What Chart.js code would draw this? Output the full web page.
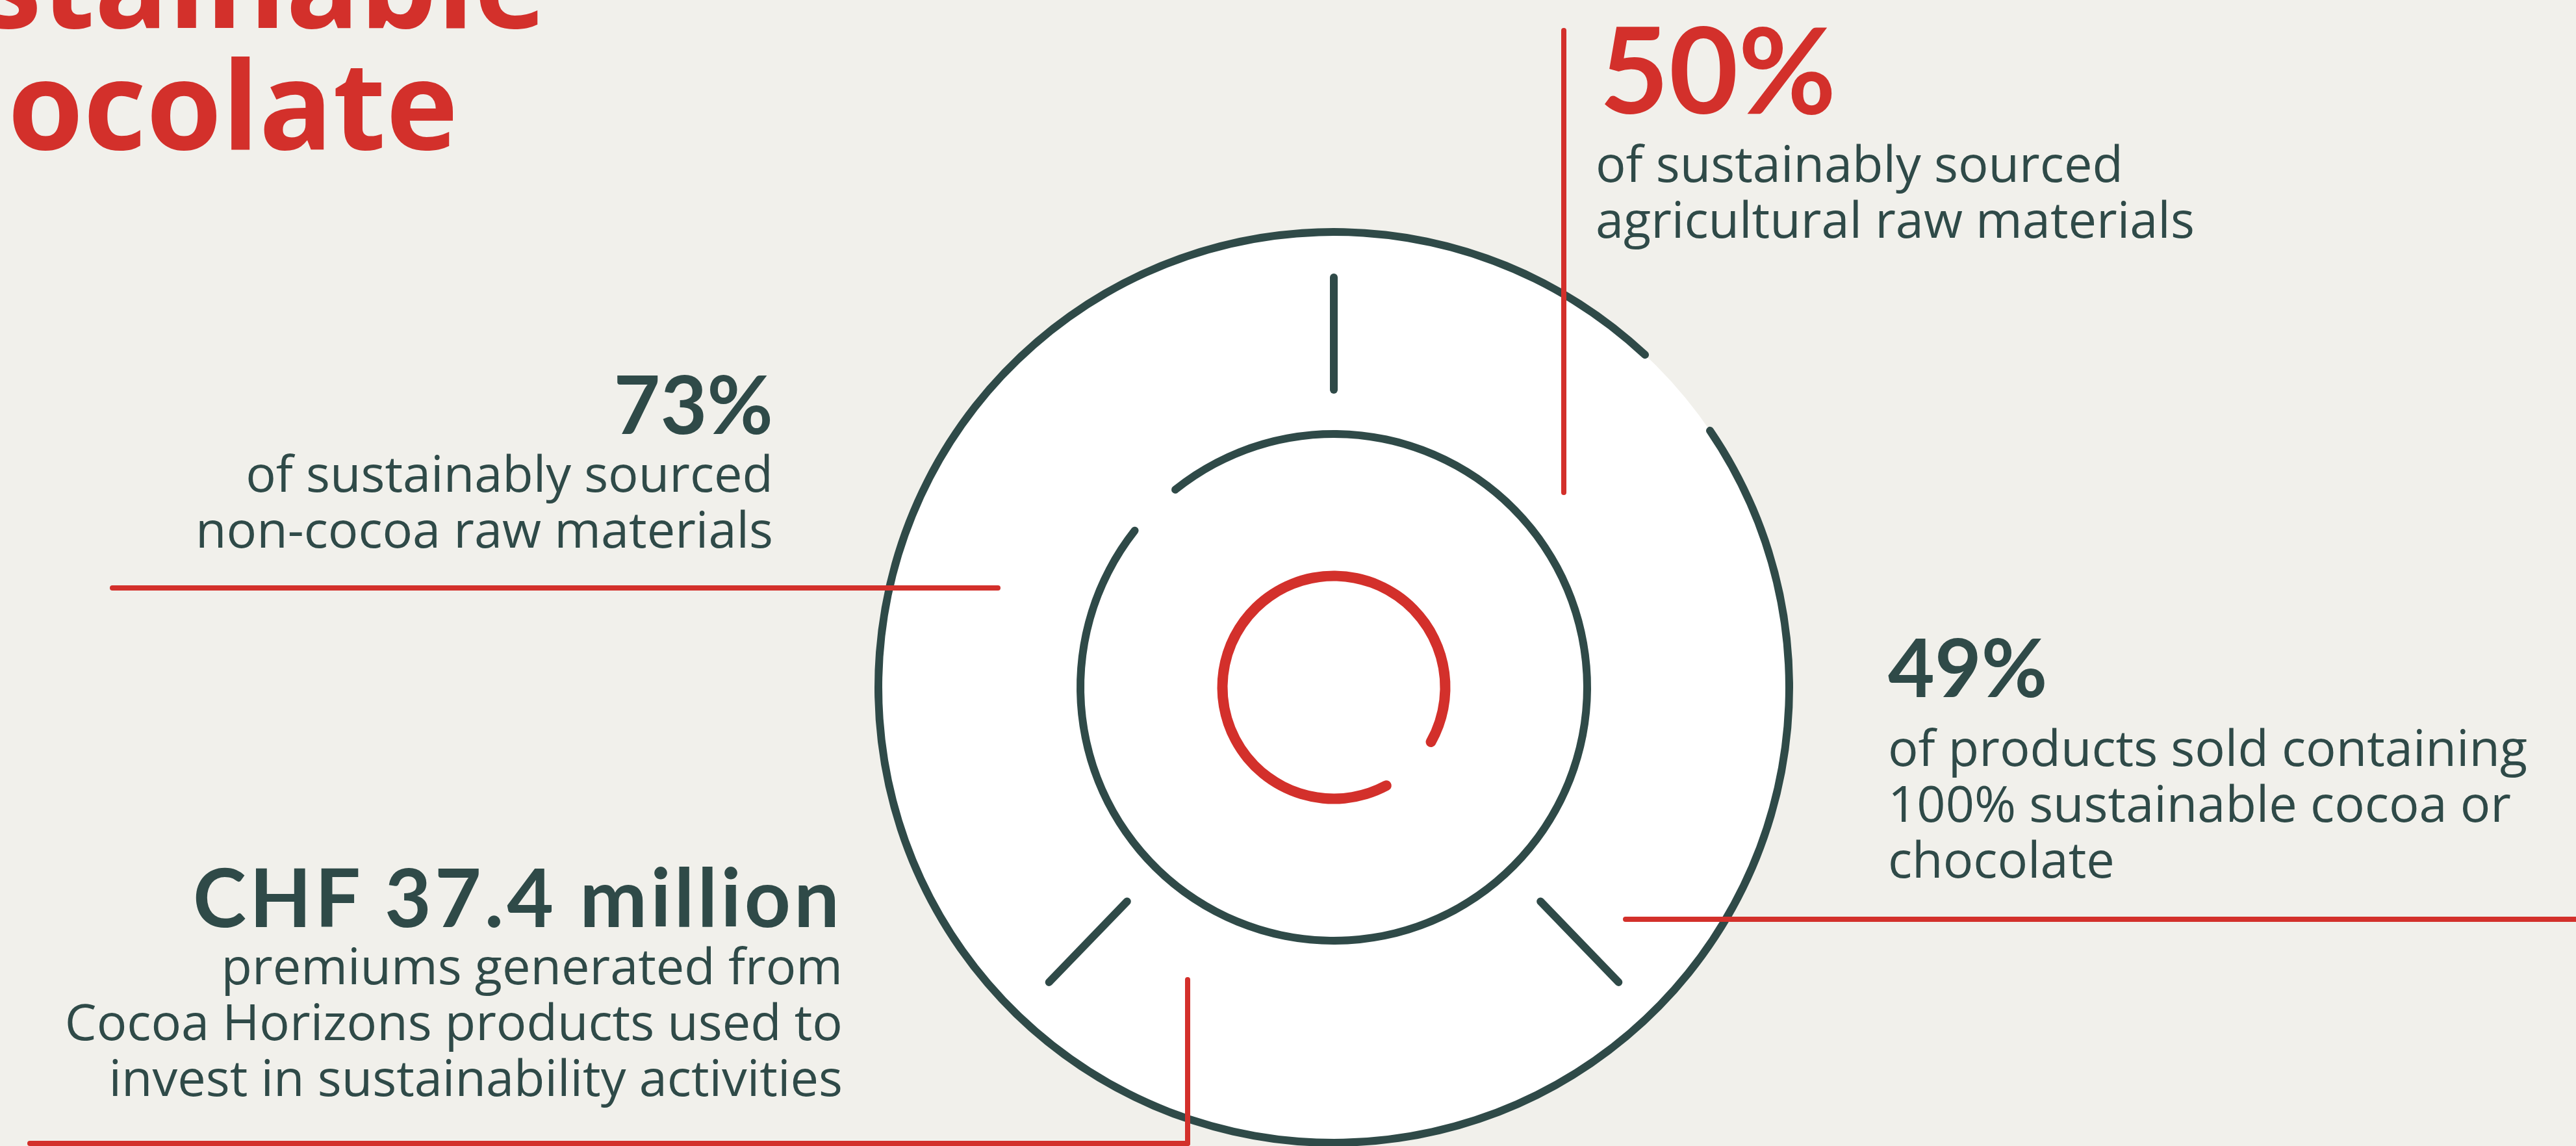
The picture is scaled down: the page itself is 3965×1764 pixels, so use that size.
<!DOCTYPE html>
<html>
<head>
<meta charset="utf-8">
<title>Sustainable chocolate</title>
<script src="https://cdn.jsdelivr.net/npm/chart.js@4.4.1/dist/chart.umd.min.js"></script>
<style>
  html, body { margin: 0; padding: 0; }
  body {
    width: 3965px; height: 1764px; overflow: hidden; position: relative;
    background: #f1f0eb; font-family: Lato, "Open Sans", sans-serif; color: #2f4a48;
  }
  #wrap { position: absolute; left: 1293px; top: 298px; width: 1520px; height: 1520px; }
  .txt { position: absolute; white-space: nowrap; }
  .big { font-weight: 700; font-size: 124px; line-height: 124px; }
  .body { font-family: "Open Sans", Lato, sans-serif; font-weight: 500; font-size: 77.5px; line-height: 86px; }
  .title { font-family: "Open Sans", Lato, sans-serif; font-weight: 700; font-size: 188px; line-height: 187px; color: #d3302b; text-align: right; }
  .right { text-align: right; }
  .red { position: absolute; background: #d3302b; border-radius: 4px; z-index: 2; }
</style>
</head>
<body>

<div class="txt title" style="right:3124px; top:-123px;">Sustainable</div>
<div class="txt title" style="right:3260px; top:64px;">chocolate</div>

<div id="wrap"><canvas id="rings" width="1520" height="1520"></canvas></div>

<div class="txt big" style="left:2462px; top:12px; font-size:184px; line-height:184px; color:#d3302b;">50%</div>
<div class="txt body" style="left:2456px; top:207px;">of sustainably sourced<br>agricultural raw materials</div>

<div class="txt big right" style="right:2775px; top:558px;">73%</div>
<div class="txt body right" style="right:2775px; top:684px;">of sustainably sourced<br>non-cocoa raw materials</div>

<div class="txt big" style="left:2906px; top:963px;">49%</div>
<div class="txt body" style="left:2906px; top:1106px;">of products sold containing<br>100% sustainable cocoa or<br>chocolate</div>

<div class="txt big right" style="right:2668px; top:1317px; letter-spacing:5px;">CHF 37.4 million</div>
<div class="txt body right" style="right:2668px; top:1442px;">premiums generated from<br>Cocoa Horizons products used to<br>invest in sustainability activities</div>

<!-- red leader lines -->
<div class="red" style="left:2403px; top:43px; width:8px; height:719px;"></div>
<div class="red" style="left:169px; top:901px; width:1371px; height:8px;"></div>
<div class="red" style="left:2498px; top:1411px; width:1500px; height:8px;"></div>
<div class="red" style="left:42px; top:1756px; width:1790px; height:8px;"></div>
<div class="red" style="left:1824px; top:1504px; width:8px; height:260px;"></div>

<script>
// arcs in degrees, clockwise from 12 o'clock
const ringNames = ['outer', 'inner', 'core'];
const ringArcs = [348.4, 348.7, 332.8];
const ringGaps = [11.6, 11.3, 27.2];
const ringStarts = [55.2, 320.4, 149.2];
const tickAngles = [0, 136, 224];

const DARK = '#2f4a48';
const RED = '#d3302b';
const NONE = 'rgba(0,0,0,0)';

function ring(i, color, w) {
    return {
        label: ringNames[i],
        data: [ringArcs[i], ringGaps[i]],
        backgroundColor: [color, NONE],
        rotation: ringStarts[i],
        weight: w,
        borderWidth: 0,
        borderRadius: w / 2
    };
}

// transparent filler between rings
function spacer(w) {
    return { data: [1], backgroundColor: [NONE], weight: w, borderWidth: 0 };
}

// white disc under the rings + the three radial ticks
const decor = {
    id: 'decor',
    beforeDatasetsDraw(chart) {
        const a = chart.getDatasetMeta(0).data[0];
        const ctx = chart.ctx;
        ctx.save();
        ctx.fillStyle = '#ffffff';
        ctx.beginPath();
        ctx.arc(a.x, a.y, a.outerRadius - 6, 0, Math.PI * 2);
        ctx.fill();
        ctx.restore();
    },
    afterDatasetsDraw(chart) {
        const a = chart.getDatasetMeta(0).data[0];
        const ctx = chart.ctx;
        ctx.save();
        ctx.strokeStyle = DARK;
        ctx.lineWidth = 12;
        ctx.lineCap = 'round';
        tickAngles.forEach(deg => {
            const t = (deg - 90) * Math.PI / 180;
            ctx.beginPath();
            ctx.moveTo(a.x + Math.cos(t) * 458, a.y + Math.sin(t) * 458);
            ctx.lineTo(a.x + Math.cos(t) * 631, a.y + Math.sin(t) * 631);
            ctx.stroke();
        });
        ctx.restore();
    }
};

new Chart(document.getElementById('rings'), {
    type: 'doughnut',
    data: {
        datasets: [
            ring(0, DARK, 12),
            spacer(299),
            ring(1, DARK, 12),
            spacer(204.5),
            ring(2, RED, 16)
        ]
    },
    options: {
        responsive: false,
        animation: false,
        events: [],
        radius: 707,
        cutout: (163.5 / 707 * 100) + '%',
        plugins: {
            legend: { display: false },
            tooltip: { enabled: false }
        }
    },
    plugins: [decor]
});
</script>
</body>
</html>
